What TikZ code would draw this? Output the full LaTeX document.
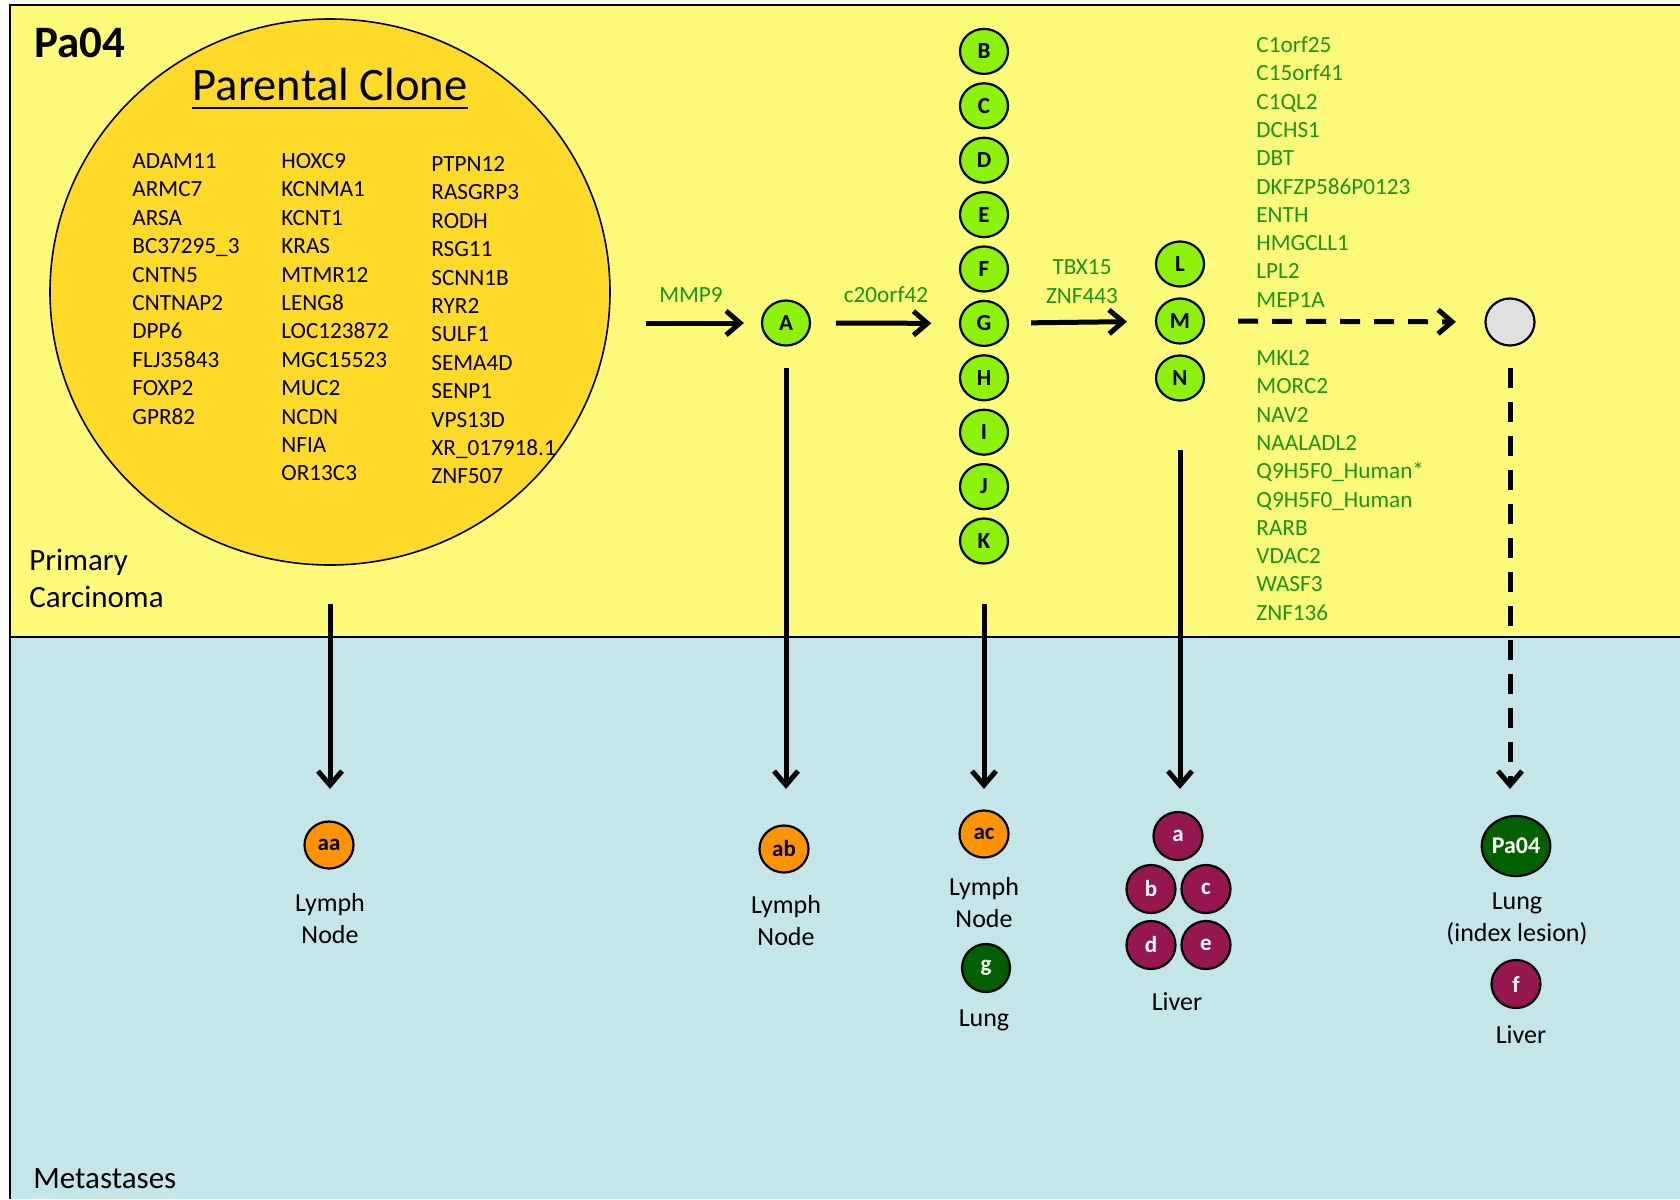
\documentclass[tikz,border=0pt]{standalone}
\usepackage{fontspec}
\setmainfont{Carlito}
\usetikzlibrary{arrows.meta,shapes.geometric}

\definecolor{primyellow}{RGB}{255,251,122}
\definecolor{metblue}{RGB}{196,230,232}
\definecolor{parentgold}{RGB}{255,218,40}
\definecolor{clonegreen}{RGB}{140,242,10}
\definecolor{lymphorange}{RGB}{255,148,0}
\definecolor{lungdkgreen}{RGB}{0,96,0}
\definecolor{livermaroon}{RGB}{150,22,80}
\definecolor{ancgray}{RGB}{224,224,224}
\definecolor{mutgreen}{RGB}{25,150,25}

\begin{document}
\begin{tikzpicture}[x=0.5pt,y=-0.5pt,
    blob/.style={ellipse, draw, line width=1.1pt, inner sep=0pt},
    clone/.style={blob, fill=clonegreen, minimum width=24pt, minimum height=22.5pt, font=\fontsize{11.5}{13}\selectfont\bfseries},
    lymph/.style={blob, fill=lymphorange, minimum width=24.5pt, minimum height=23.5pt, font=\fontsize{11.5}{13}\selectfont\bfseries},
    liver/.style={blob, fill=livermaroon, text=white, minimum width=24.5pt, minimum height=24pt, font=\fontsize{11.5}{13}\selectfont\bfseries},
    lung/.style={blob, fill=lungdkgreen, text=white, minimum width=24pt, minimum height=24pt, font=\fontsize{11.5}{13}\selectfont\bfseries},
    gene/.style={anchor=base west, inner sep=0pt, font=\fontsize{11.6}{14}\selectfont},
    mut/.style={gene, text=mutgreen},
    mutlab/.style={inner sep=0pt, align=center, text=mutgreen, font=\fontsize{11.6}{14.5}\selectfont},
    site/.style={inner sep=0pt, align=center, font=\fontsize{13}{16}\selectfont},
    flow/.style={line width=2.5pt, -{Straight Barb[length=7pt,width=12pt]}},
    dashflow/.style={flow, dash pattern=on 10pt off 7pt}]
\useasboundingbox (0,0) rectangle (1680,1199);

\fill[primyellow] (10,5) rectangle (1680,637);
\fill[metblue] (10,637) rectangle (1680,1199);
\draw[line width=1pt] (1680,5) -- (10,5) -- (10,1199);
\draw[line width=1pt] (10,637) -- (1680,637);

\node[anchor=base west, inner sep=0pt, font=\fontsize{22.5}{27}\selectfont\bfseries] (title) at (34,57) {Pa04};
\node[anchor=north west, inner sep=0pt, align=left, font=\fontsize{15.5}{18.5}\selectfont] (prim) at (29,549) {Primary\\Carcinoma};
\node[anchor=base west, inner sep=0pt, font=\fontsize{15.5}{18.5}\selectfont] (meta) at (33,1188) {Metastases};

\node[blob, line width=0.8pt, fill=parentgold, minimum width=280pt, minimum height=273pt] (parent) at (330,292) {};
\node[anchor=base, inner sep=0pt, font=\fontsize{23.3}{28}\selectfont] (pclone) at (330,100) {Parental Clone};
\draw[line width=1pt] ([yshift=-4pt]pclone.base west) -- ([yshift=-4pt]pclone.base east);

\foreach \g [count=\i] in {ADAM11,ARMC7,ARSA,BC37295\_3,CNTN5,CNTNAP2,DPP6,FLJ35843,FOXP2,GPR82}
  \node[gene] (ga\i) at (132,{168.5+28.4*(\i-1)}) {\g};
\foreach \g [count=\i] in {HOXC9,KCNMA1,KCNT1,KRAS,MTMR12,LENG8,LOC123872,MGC15523,MUC2,NCDN,NFIA,OR13C3}
  \node[gene] (gb\i) at (281,{168.5+28.4*(\i-1)}) {\g};
\foreach \g [count=\i] in {PTPN12,RASGRP3,RODH,RSG11,SCNN1B,RYR2,SULF1,SEMA4D,SENP1,VPS13D,XR\_017918.1,ZNF507}
  \node[gene] (gc\i) at (431,{171.5+28.4*(\i-1)}) {\g};

\foreach \g [count=\i] in {C1orf25,C15orf41,C1QL2,DCHS1,DBT,DKFZP586P0123,ENTH,HMGCLL1,LPL2,MEP1A}
  \node[mut] (mu\i) at (1256,{52.5+28.3*(\i-1)}) {\g};
\foreach \g [count=\i] in {MKL2,MORC2,NAV2,NAALADL2,Q9H5F0\_Human*,Q9H5F0\_Human,RARB,VDAC2,WASF3,ZNF136}
  \node[mut] (md\i) at (1256,{365.5+28.3*(\i-1)}) {\g};

\node[clone] (A) at (786,323) {A};
\foreach \s [count=\i] in {B,C,D,E,F,G,H,I,J,K}
  \node[clone] (\s) at (984,{51.4+54.4*(\i-1)}) {\s};
\node[clone] (L) at (1180,264) {L};
\node[clone] (M) at (1180,321) {M};
\node[clone] (N) at (1180,378) {N};
\node[blob, fill=ancgray, minimum width=24.5pt, minimum height=23.5pt] (anc) at (1510,322) {};

\node[mutlab] (mmp) at (691,295) {MMP9};
\node[mutlab] (c20) at (886,295) {c20orf42};
\node[mutlab] (tbx) at (1082,281.5) {TBX15\\ZNF443};

\draw[flow, shorten <=17.75pt, shorten >=8.5pt] (parent.east |- A) -- (A);
\draw[flow, shorten <=12.5pt, shorten >=13.8pt] (A) -- (G);
\draw[flow, shorten <=11pt, shorten >=14pt] (G) -- (M);
\draw[dashflow, shorten <=16.5pt, shorten >=14.25pt] (M) -- (anc);

\node[lymph] (lna) at (329,845) {aa};
\node[lymph] (lnb) at (784,849) {ab};
\node[lymph] (lnc) at (984,834) {ac};
\node[lung] (lg) at (986,968) {g};
\node[liver] (la) at (1178,836) {a};
\node[liver] (lb) at (1151,889) {b};
\node[liver] (lc) at (1206,889) {c};
\node[liver] (ld) at (1151,945) {d};
\node[liver] (le) at (1206,945) {e};
\node[lung, minimum width=32pt, minimum height=30pt, font=\fontsize{12}{14}\selectfont\bfseries] (idx) at (1516,846) {Pa04};
\node[liver] (lf) at (1516,984) {f};

\node[site] (sa) at (330,919) {Lymph\\Node};
\node[site] (sb) at (786,920.5) {Lymph\\Node};
\node[site] (sc) at (984,903) {Lymph\\Node};
\node[site] (sg) at (984,1020) {Lung};
\node[site] (sl) at (1177,1002) {Liver};
\node[site] (si) at (1517,919) {Lung\\(index lesion)};
\node[site] (sf) at (1521,1035) {Liver};

\draw[flow, shorten <=19pt, shorten >=15.75pt] (parent) -- (parent |- lna.north);
\draw[flow, shorten <=10.75pt, shorten >=17.75pt] (A) -- (A |- lnb.north);
\draw[flow, shorten <=19.75pt, shorten >=10.25pt] (K) -- (lnc);
\draw[flow, shorten <=24.25pt, shorten >=11pt] (N) -- (N |- la.north);
\draw[dashflow, shorten <=10.75pt, shorten >=13pt] (anc) -- (anc |- idx.north);
\end{tikzpicture}
\end{document}
